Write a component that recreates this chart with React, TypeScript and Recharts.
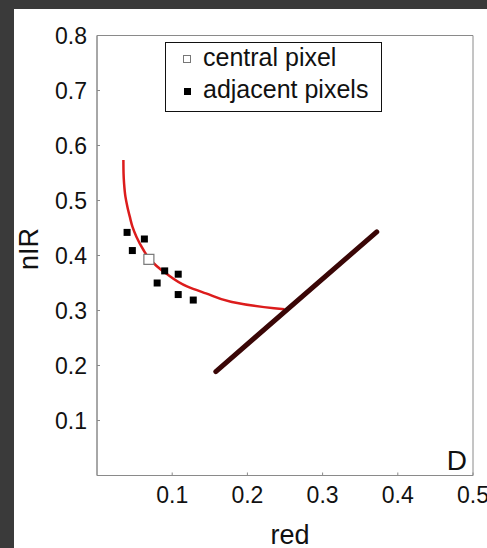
import React from "react";
import {
  ComposedChart,
  Line,
  Scatter,
  XAxis,
  YAxis,
  Legend,
  ReferenceArea,
} from "recharts";

// values
const centralRed = [0.069];
const centralNir = [0.393];

const adjacentRed = [0.04, 0.063, 0.047, 0.09, 0.108, 0.08, 0.108, 0.128];
const adjacentNir = [0.442, 0.43, 0.409, 0.372, 0.366, 0.35, 0.329, 0.319];

const curveRed = [
  0.0351, 0.0353, 0.036, 0.0378, 0.0404, 0.0436, 0.0471, 0.0524, 0.0618,
  0.0693, 0.0916, 0.1204, 0.1449, 0.178, 0.2356, 0.2493,
];
const curveNir = [
  0.5736, 0.5494, 0.5312, 0.507, 0.4888, 0.4706, 0.4524, 0.4342, 0.41,
  0.3948, 0.3676, 0.3433, 0.3312, 0.316, 0.304, 0.3022,
];

const soilRed = [0.158, 0.372];
const soilNir = [0.189, 0.443];

const xTicks = [0.1, 0.2, 0.3, 0.4, 0.5];
const yTicks = [0.1, 0.2, 0.3, 0.4, 0.5, 0.6, 0.7, 0.8];

const legendNames = ["central pixel", "adjacent pixels"];

const zip = (xs: number[], ys: number[]) =>
  xs.map((red, i) => ({ red, nir: ys[i] }));

const centralData = zip(centralRed, centralNir);
const adjacentData = zip(adjacentRed, adjacentNir);
const curveData = zip(curveRed, curveNir);
const soilData = zip(soilRed, soilNir);

const FONT = '"Liberation Sans", Arial, sans-serif';
const AXIS = "#8a8a8a";

const BottomTick = (props: any) => {
  const { x, y, payload } = props;
  const axisY = y - 11;
  return (
    <g>
      <line x1={x} y1={axisY} x2={x} y2={axisY - 3} stroke={AXIS} />
      <text x={x} y={y} dy="0.71em" textAnchor="middle" fontSize={23} fontFamily={FONT} fill="#111">
        {payload.value}
      </text>
    </g>
  );
};

const LeftTick = (props: any) => {
  const { x, y, payload } = props;
  const axisX = x + 10;
  return (
    <g>
      <line x1={axisX} y1={y} x2={axisX + 3} y2={y} stroke={AXIS} />
      <text x={x} y={y} dy="0.355em" textAnchor="end" fontSize={23} fontFamily={FONT} fill="#111">
        {payload.value}
      </text>
    </g>
  );
};

const RightTick = (props: any) => {
  const { x, y } = props;
  return <line x1={x - 3} y1={y} x2={x} y2={y} stroke={AXIS} />;
};

const TopTick = (props: any) => {
  const { x, y } = props;
  return <line x1={x} y1={y} x2={x} y2={y + 3} stroke={AXIS} />;
};

const AxisTitle = ({ tx, ty, rot, text }: any) => (
  <text
    x={tx}
    y={ty}
    textAnchor="middle"
    fontSize={27}
    fontFamily={FONT}
    fill="#111"
    transform={rot ? `rotate(${rot} ${tx} ${ty})` : undefined}
  >
    {text}
  </text>
);

const BlackSquare = (props: any) => (
  <rect x={props.cx - 3.5} y={props.cy - 3.5} width={7} height={7} fill="#000" />
);

const OpenSquare = (props: any) => (
  <rect x={props.cx - 5} y={props.cy - 5} width={10} height={10} fill="#fff" stroke="#777" strokeWidth={1.2} />
);

const LegendBox = () => (
  <div
    style={{
      position: "relative",
      width: 217,
      height: 70,
      boxSizing: "border-box",
      border: "1.5px solid #111",
      background: "#fff",
      fontFamily: FONT,
      fontSize: 25,
      lineHeight: "25px",
      color: "#111",
    }}
  >
    <div style={{ position: "absolute", left: 17, top: 12, width: 8, height: 8, boxSizing: "border-box", border: "1px solid #777", background: "#fff" }} />
    <span style={{ position: "absolute", left: 37, top: 2, whiteSpace: "nowrap" }}>{legendNames[0]}</span>
    <div style={{ position: "absolute", left: 18, top: 45, width: 7, height: 7, background: "#000" }} />
    <span style={{ position: "absolute", left: 37, top: 34, whiteSpace: "nowrap" }}>{legendNames[1]}</span>
  </div>
);

export default function App() {
  return (
    <div style={{ position: "fixed", left: 0, top: 0, width: 487, height: 548, background: "#3a3a3a", overflow: "hidden" }}>
      <div style={{ position: "absolute", left: 14, top: 9, right: 0, bottom: 0, background: "#fff" }} />
      <div style={{ position: "absolute", left: 0, top: 0 }}>
        <ComposedChart width={487} height={548} margin={{ top: 34.5, right: 13, bottom: 0, left: 0 }}>
          <XAxis
            dataKey="red"
            type="number"
            domain={[0, 0.5]}
            ticks={xTicks}
            interval={0}
            height={72.5}
            tickSize={0}
            tickMargin={11}
            tickLine={false}
            axisLine={{ stroke: AXIS }}
            tick={<BottomTick />}
            label={<AxisTitle tx={290} ty={544} text="red" />}
          />
          <XAxis
            xAxisId="top"
            orientation="top"
            dataKey="red"
            type="number"
            domain={[0, 0.5]}
            ticks={xTicks.slice(0, 4)}
            interval={0}
            height={1}
            tickSize={0}
            tickMargin={0}
            tickLine={false}
            axisLine={false}
            tick={<TopTick />}
          />
          <YAxis
            dataKey="nir"
            type="number"
            domain={[0, 0.8]}
            ticks={yTicks}
            interval={0}
            width={97}
            tickSize={0}
            tickMargin={10}
            tickLine={false}
            axisLine={{ stroke: AXIS }}
            tick={<LeftTick />}
            label={<AxisTitle tx={38} ty={249} rot={-90} text="nIR" />}
          />
          <YAxis
            yAxisId="right"
            orientation="right"
            dataKey="nir"
            type="number"
            domain={[0, 0.8]}
            ticks={yTicks.slice(0, 7)}
            interval={0}
            width={1}
            tickSize={0}
            tickMargin={0}
            tickLine={false}
            axisLine={false}
            tick={<RightTick />}
          />
          <ReferenceArea
            x1={0}
            x2={0.5}
            y1={0}
            y2={0.8}
            fillOpacity={0}
            stroke={AXIS}
            strokeWidth={1}
            label={{ value: "D", position: "insideBottomRight", offset: 6, fontSize: 28, fill: "#111", fontFamily: FONT }}
          />
          <Line
            data={curveData}
            dataKey="nir"
            type="monotoneY"
            stroke="#dc1c1c"
            strokeWidth={2.5}
            dot={false}
            isAnimationActive={false}
            legendType="none"
          />
          <Scatter data={adjacentData} name={legendNames[1]} shape={<BlackSquare />} isAnimationActive={false} />
          <Scatter data={centralData} name={legendNames[0]} shape={<OpenSquare />} isAnimationActive={false} />
          <Line
            data={soilData}
            dataKey="nir"
            type="linear"
            stroke="#3a0606"
            strokeWidth={5}
            strokeLinecap="round"
            dot={false}
            isAnimationActive={false}
            legendType="none"
          />
          <Legend
            layout="vertical"
            align="center"
            verticalAlign="middle"
            content={<LegendBox />}
            wrapperStyle={{ left: 165, top: 42, width: 217, height: 70 }}
          />
        </ComposedChart>
      </div>
    </div>
  );
}
